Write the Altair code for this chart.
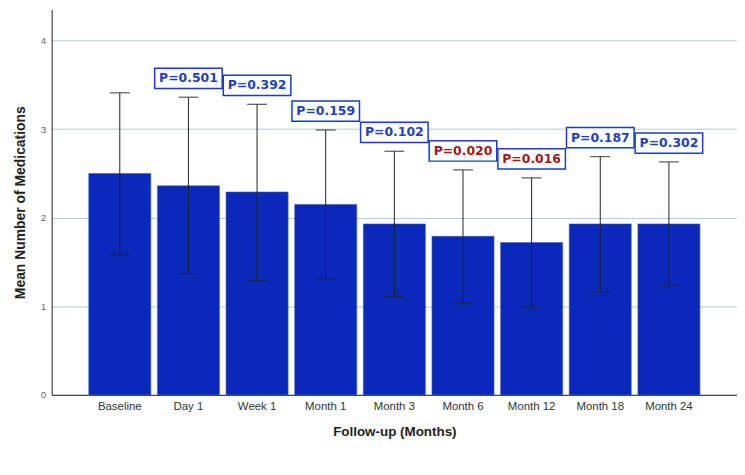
import altair as alt
import pandas as pd

categories = ["Baseline", "Day 1", "Week 1", "Month 1", "Month 3", "Month 6", "Month 12", "Month 18", "Month 24"]
means = [2.50, 2.36, 2.29, 2.15, 1.93, 1.79, 1.72, 1.93, 1.93]
err_hi = [3.41, 3.36, 3.28, 2.99, 2.75, 2.54, 2.45, 2.69, 2.63]
err_lo = [1.58, 1.37, 1.29, 1.31, 1.11, 1.04, 0.99, 1.16, 1.24]
p_labels = [None, "P=0.501", "P=0.392", "P=0.159", "P=0.102", "P=0.020", "P=0.016", "P=0.187", "P=0.302"]
significant = [False, False, False, False, False, True, True, False, False]

df = pd.DataFrame({
    "cat": categories, "mean": means, "hi": err_hi, "lo": err_lo,
    "p": p_labels, "sig": significant,
})
lab = df[df["p"].notna()].copy()

xenc = alt.X("cat:N", sort=categories, title="Follow-up (Months)",
             scale=alt.Scale(paddingInner=0.096, paddingOuter=0.54),
             axis=alt.Axis(labelAngle=0, labelFont="Liberation Sans", labelFontSize=11.5,
                           labelColor="#333333", labelPadding=6, ticks=False,
                           domainColor="#444444", domainWidth=1.2,
                           titleFont="Liberation Sans", titleFontSize=13.5, titleFontWeight="bold",
                           titleColor="#222222", titlePadding=12))
yscale = alt.Scale(domain=[0, 4.35], nice=False)

bars = alt.Chart(df).mark_bar(color="#0a29bb", stroke="#3d5cd6", strokeWidth=0.6).encode(
    x=xenc,
    y=alt.Y("mean:Q", scale=yscale, title="Mean Number of Medications",
            axis=alt.Axis(values=[0, 1, 2, 3, 4], format="d", ticks=False, labelFontSize=10,
                          labelColor="#666666", labelPadding=6, gridColor="#b3c7d3",
                          domainColor="#444444", domainWidth=1.2,
                          titleFont="Liberation Sans", titleFontSize=14, titleFontWeight="bold",
                          titleColor="#222222", titlePadding=13)),
)

rules = alt.Chart(df).mark_rule(color="#222222", strokeWidth=1).encode(
    x=alt.X("cat:N", sort=categories), y="hi:Q", y2="lo:Q")
caps_hi = alt.Chart(df).mark_tick(color="#222222", thickness=1.3, size=20).encode(
    x=alt.X("cat:N", sort=categories), y="hi:Q")
caps_lo = alt.Chart(df).mark_tick(color="#222222", thickness=1.3, size=20).encode(
    x=alt.X("cat:N", sort=categories), y="lo:Q")

boxes = alt.Chart(lab).mark_point(
    shape="M-1,-0.3H1V0.3H-1Z", size=68 * 68, filled=True, fill="white",
    stroke="#1a3ccc", strokeWidth=1.5, opacity=1, yOffset=-19,
).encode(x=alt.X("cat:N", sort=categories), y="hi:Q")

texts = alt.Chart(lab).mark_text(
    font="DejaVu Sans", fontWeight="bold", fontSize=12.5, yOffset=-19, baseline="middle",
).encode(
    x=alt.X("cat:N", sort=categories), y="hi:Q", text="p:N",
    color=alt.Color("sig:N", scale=alt.Scale(domain=[False, True], range=["#1f3fbf", "#a01818"]), legend=None),
)

chart = alt.layer(bars, rules, caps_hi, caps_lo, boxes, texts).properties(
    width=690, height=388,
    autosize=alt.AutoSizeParams(type="none"),
    padding={"left": 44, "top": 0, "right": 0, "bottom": 60},
).configure_view(stroke=None)

chart.save("out.html", embed_options={"renderer": "svg", "actions": False})
